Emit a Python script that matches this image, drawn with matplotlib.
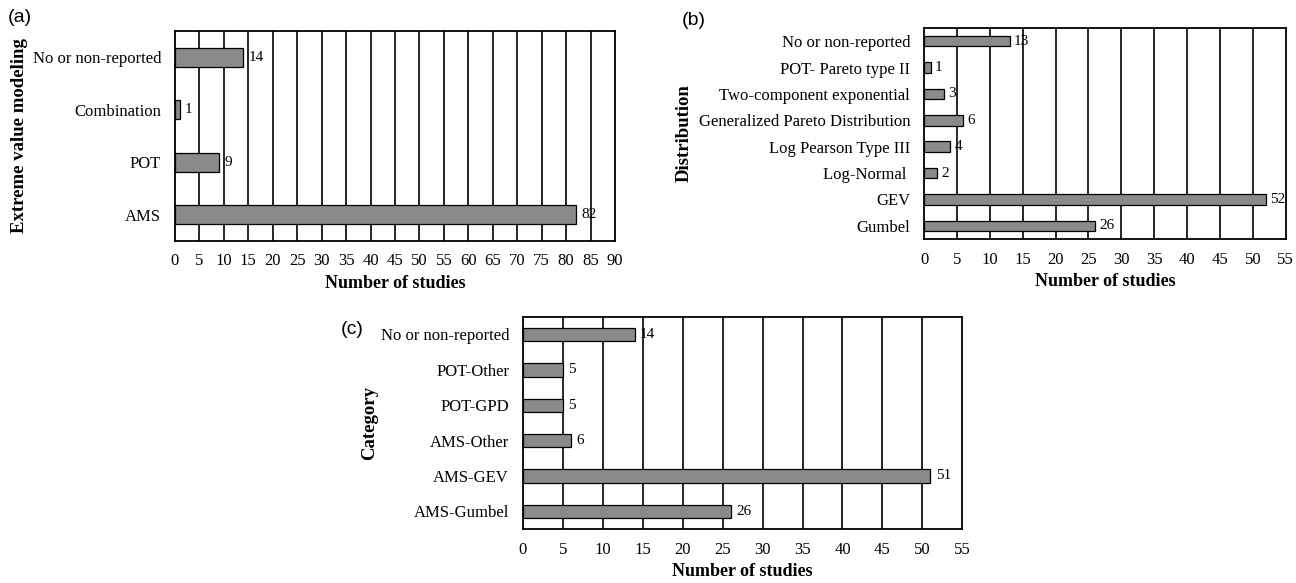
import matplotlib
matplotlib.use("Agg")
import numpy as np
from matplotlib import pyplot as plt

# panel (a)
evm_labels = ["AMS", "POT", "Combination", "No or non-reported"]
evm_counts = [82, 9, 1, 14]

# panel (b)
dist_labels = ["Gumbel", "GEV", "Log-Normal ", "Log Pearson Type III",
               "Generalized Pareto Distribution", "Two-component exponential",
               "POT- Pareto type II", "No or non-reported"]
dist_counts = [26, 52, 2, 4, 6, 3, 1, 13]

# panel (c)
cat_labels = ["AMS-Gumbel", "AMS-GEV", "AMS-Other", "POT-GPD", "POT-Other",
              "No or non-reported"]
cat_counts = [26, 51, 6, 5, 5, 14]

plt.rcParams["font.family"] = ["Liberation Serif", "DejaVu Serif"]


def draw_panel(ax, labels, counts, xmax, ylabel, bar_h):
    y = np.arange(len(labels))
    ax.set_axisbelow(True)
    for xv in range(5, xmax, 5):
        ax.axvline(xv, color="black", lw=1.2, zorder=0)
    ax.barh(y, counts, height=bar_h, color="#8a8a8a", edgecolor="black",
            linewidth=0.9, zorder=2)
    for yi, c in zip(y, counts):
        ax.text(c + xmax * 0.012, yi, str(c), va="center", ha="left",
                fontsize=11, zorder=3)
    ax.set_xlim(0, xmax)
    ax.set_ylim(-0.5, len(labels) - 0.5)
    ax.set_xticks(range(0, xmax + 1, 5))
    ax.set_yticks(y)
    ax.set_yticklabels(labels)
    ax.tick_params(axis="both", length=0, labelsize=12)
    ax.tick_params(axis="x", pad=9)
    ax.tick_params(axis="y", pad=10)
    ax.set_xlabel("Number of studies", fontsize=13, fontweight="bold",
                  labelpad=4)
    ax.set_ylabel(ylabel, fontsize=13.5, fontweight="bold")
    for s in ax.spines.values():
        s.set_linewidth(1.3)
        s.set_color("black")


fig = plt.figure(figsize=(12.96, 5.83), dpi=100)

ax_a = fig.add_axes([0.135, 0.587, 0.3395, 0.360])
draw_panel(ax_a, evm_labels, evm_counts, 90, "Extreme value modeling", 0.36)
ax_a.yaxis.set_label_coords(-0.335, 0.5)

ax_b = fig.add_axes([0.713, 0.590, 0.279, 0.362])
draw_panel(ax_b, dist_labels, dist_counts, 55, "Distribution", 0.4)
ax_b.yaxis.set_label_coords(-0.64, 0.5)

ax_c = fig.add_axes([0.4035, 0.0926, 0.339, 0.364])
draw_panel(ax_c, cat_labels, cat_counts, 55, "Category", 0.38)
ax_c.yaxis.set_label_coords(-0.33, 0.5)

sans = ["Liberation Sans", "DejaVu Sans"]
fig.text(0.006, 0.97, "(a)", fontsize=14, family=sans, va="center")
fig.text(0.526, 0.965, "(b)", fontsize=14, family=sans, va="center")
fig.text(0.263, 0.435, "(c)", fontsize=14, family=sans, va="center")

fig.savefig("out.png", dpi=100)
